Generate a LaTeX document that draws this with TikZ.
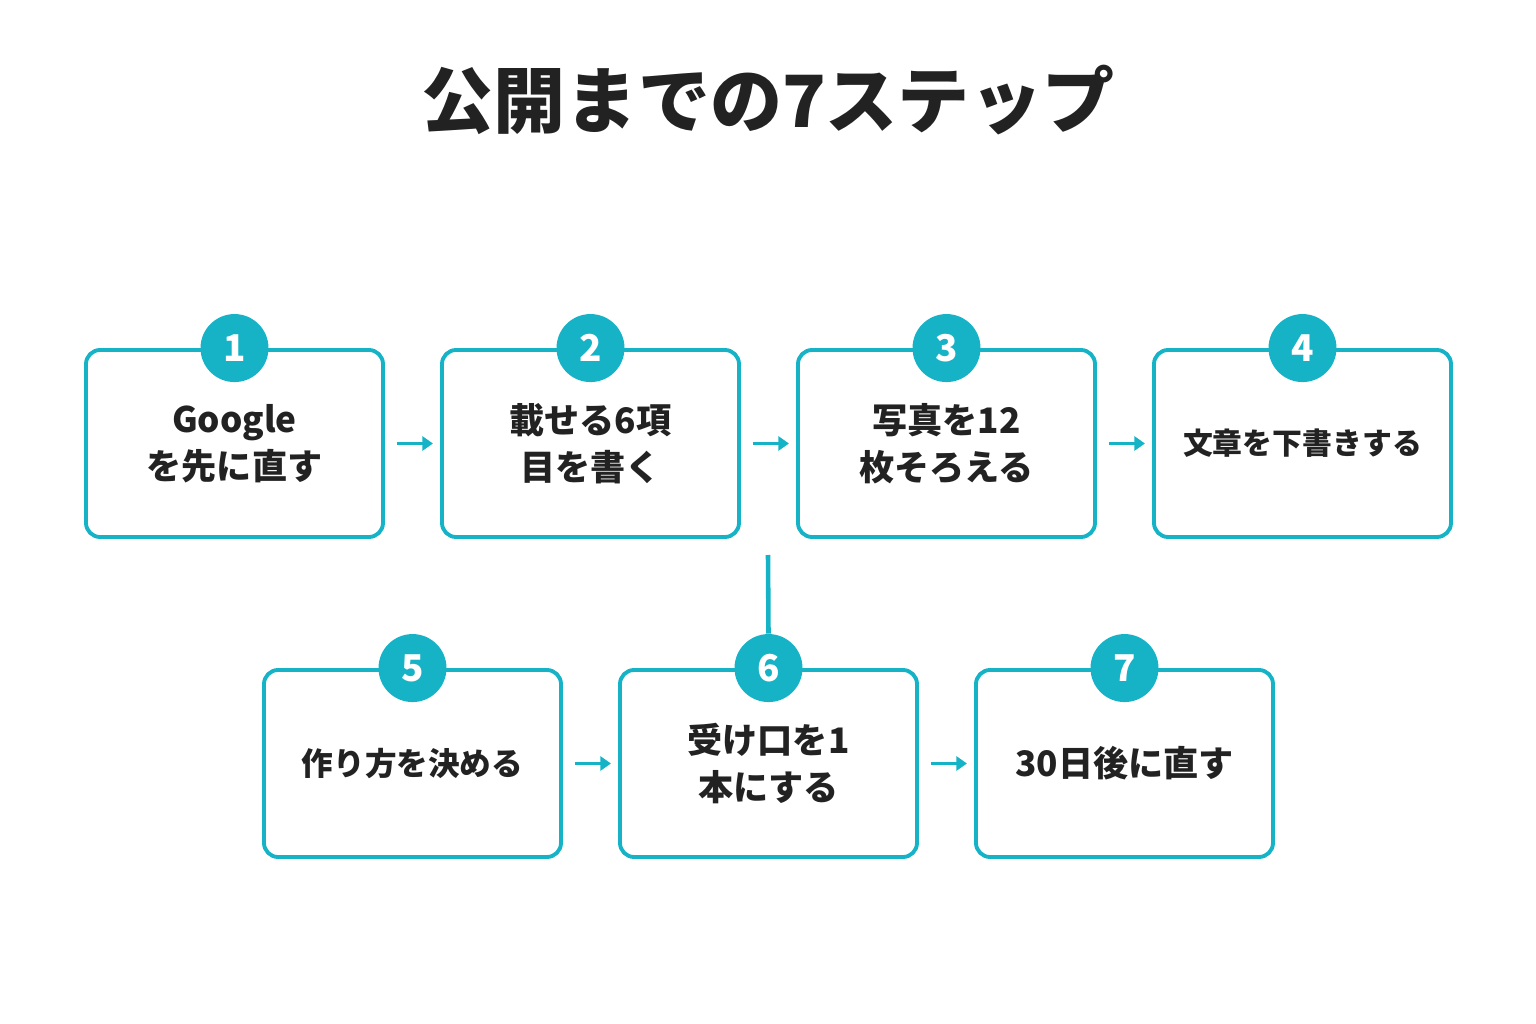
\documentclass[tikz,border=0pt]{standalone}
\usepackage{fontspec}
\setmainfont{Noto Sans CJK JP}
\usetikzlibrary{arrows.meta}
\definecolor{teal1}{HTML}{16B2C6}
\definecolor{ink}{HTML}{222222}
\tikzset{
  stepbox/.style={draw=teal1,line width=2.2pt,rounded corners=8pt,minimum width=297*0.02cm,
    minimum height=187*0.02cm,align=center,text=ink,font=\fontsize{20}{27}\selectfont\bfseries},
  num/.style={circle,fill=teal1,minimum size=68*0.02cm,inner sep=0pt,text=white,
    font=\fontsize{21}{21}\selectfont\bfseries},
  flow/.style={-{Triangle[length=6pt,width=8pt]},teal1,line width=2.2pt}
}
\begin{document}
\begin{tikzpicture}[x=0.02cm,y=-0.02cm]
  \useasboundingbox (0,0) rectangle (1536,1024);
  \node[text=ink,font=\fontsize{41}{41}\selectfont\bfseries] (title) at (768,100) {公開までの7ステップ};
  % top row
  \node[stepbox] (s1) at (234.5,443.5) {Google\\を先に直す};
  \node[stepbox] (s2) at (590.5,443.5) {載せる6項\\目を書く};
  \node[stepbox] (s3) at (946.5,443.5) {写真を12\\枚そろえる};
  \node[stepbox,font=\fontsize{17}{22}\selectfont\bfseries] (s4) at (1302.5,443.5) {文章を下書きする};
  % bottom row
  \node[stepbox,font=\fontsize{18}{22}\selectfont\bfseries] (s5) at (412.5,763.5) {作り方を決める};
  \node[stepbox] (s6) at (768.5,763.5) {受け口を1\\本にする};
  \node[stepbox] (s7) at (1124.5,763.5) {30日後に直す};
  \foreach \i in {1,...,7}
    \node[num] (n\i) at (s\i.north) {\i};
  % connectors
  \draw[flow] (s1.east) ++(12,0) -- ++(36,0);
  \draw[flow] (s2.east) ++(12,0) -- ++(36,0);
  \draw[flow] (s3.east) ++(12,0) -- ++(36,0);
  \draw[flow] (s5.east) ++(12,0) -- ++(36,0);
  \draw[flow] (s6.east) ++(12,0) -- ++(36,0);
  \coordinate (drop) at (768,555);
  \draw[teal1,line width=2.6pt] (drop) -- (n6.north);
\end{tikzpicture}
\end{document}
